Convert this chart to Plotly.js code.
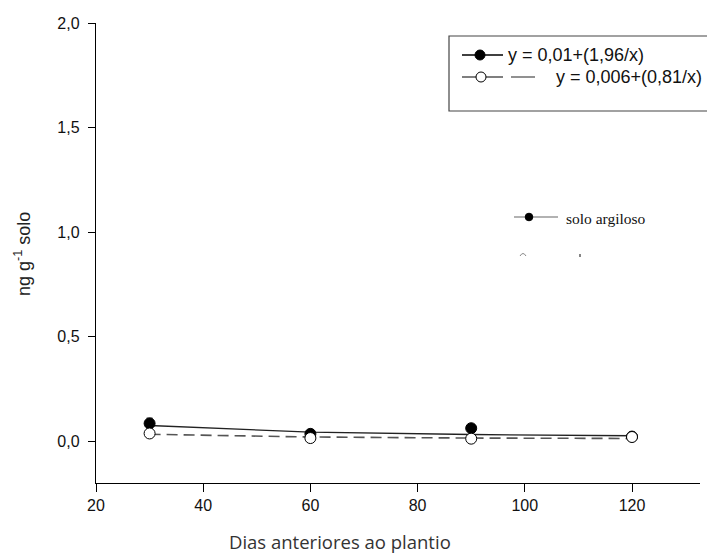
<!DOCTYPE html>
<html>
<head>
<meta charset="utf-8">
<script src="https://cdn.plot.ly/plotly-3.0.1.min.js"></script>
<style>
  html, body { margin: 0; padding: 0; background: #fff; }
  #chart { width: 707px; height: 553px; }
</style>
</head>
<body>
<div id="chart"></div>
<script>
// Days before planting
const dias = [30, 60, 90, 120];

// Measured residues (ng g-1 solo)
const argiloso = [0.085, 0.035, 0.062, 0.022];
const argilosoErr = [0.025, 0.010, 0.015, 0.005];
const arenoso = [0.037, 0.015, 0.012, 0.020];
const arenosoErr = [0.010, 0.006, 0.006, 0.005];

// Fitted curves evaluated at the sampling days
const ajusteArgiloso = [0.075, 0.043, 0.032, 0.026];
const ajusteArenoso = [0.033, 0.020, 0.015, 0.013];

// Legend text
const eqArgiloso = 'y = 0,01+(1,96/x)';
const eqArenoso = 'y = 0,006+(0,81/x)';

const xTicks = [20, 40, 60, 80, 100, 120];
const yTicks = [0, 0.5, 1, 1.5, 2];

// Plot area in pixels (used to place the legend box)
const W = 707, H = 553;
const M = { l: 96, r: 7, t: 23, b: 70 };
const PW = W - M.l - M.r, PH = H - M.t - M.b;
const px = x => (x - M.l) / PW;
const py = y => (H - M.b - y) / PH;

const traces = [
  {
    x: dias, y: ajusteArgiloso, mode: 'lines', type: 'scatter',
    line: { color: '#222', width: 1.3 }, hoverinfo: 'skip', showlegend: false
  },
  {
    x: dias, y: ajusteArenoso, mode: 'lines', type: 'scatter',
    line: { color: '#555', width: 1.6, dash: '11px,6px' }, hoverinfo: 'skip', showlegend: false
  },
  {
    x: dias, y: argiloso, mode: 'markers', type: 'scatter', name: 'solo argiloso',
    error_y: { type: 'data', array: argilosoErr, color: '#000', thickness: 1, width: 3 },
    marker: { symbol: 'circle', size: 11, color: '#000', line: { color: '#000', width: 1 } },
    showlegend: false
  },
  {
    x: dias, y: arenoso, mode: 'markers', type: 'scatter', name: 'solo arenoso',
    error_y: { type: 'data', array: arenosoErr, color: '#000', thickness: 1, width: 3 },
    marker: { symbol: 'circle', size: 11, color: '#fff', line: { color: '#000', width: 1 } },
    showlegend: false
  }
];

function circle(cx, cy, r, fill) {
  return {
    type: 'circle', xref: 'paper', yref: 'paper',
    x0: px(cx - r), x1: px(cx + r), y0: py(cy + r), y1: py(cy - r),
    fillcolor: fill, line: { color: '#000', width: 1 }, layer: 'above'
  };
}
function seg(x0, y0, x1, y1, color, width) {
  return {
    type: 'line', xref: 'paper', yref: 'paper',
    x0: px(x0), x1: px(x1), y0: py(y0), y1: py(y1),
    line: { color: color, width: width }, layer: 'above'
  };
}

const shapes = [
  // equation box (runs off the right edge)
  {
    type: 'rect', xref: 'paper', yref: 'paper',
    x0: px(449), x1: px(715), y0: py(111), y1: py(36),
    fillcolor: '#fff', line: { color: '#444', width: 1.2 }, layer: 'above'
  },
  seg(462, 55, 503, 55, '#000', 1.3),
  circle(480, 55, 5, '#000'),
  seg(462, 77, 503, 77, '#555', 1.3),
  seg(511, 77, 535, 77, '#555', 1.3),
  circle(481, 77, 5, '#fff'),
  // series key
  seg(514, 217, 558, 217, '#999', 1.5),
  circle(529, 217, 3.8, '#000'),
  {
    type: 'path', xref: 'paper', yref: 'paper',
    path: 'M ' + px(520) + ',' + py(256) + ' Q ' + px(523) + ',' + py(251) + ' ' + px(526) + ',' + py(256),
    line: { color: '#888', width: 1 }, layer: 'above'
  },
  seg(580, 254, 580, 257, '#444', 1.3)
];

const annotations = [
  {
    text: eqArgiloso, xref: 'paper', yref: 'paper', x: px(506), y: py(55),
    xanchor: 'left', yanchor: 'middle', showarrow: false,
    font: { family: 'Liberation Sans, Arial, sans-serif', size: 18, color: '#111' }
  },
  {
    text: eqArenoso, xref: 'paper', yref: 'paper', x: px(554), y: py(77),
    xanchor: 'left', yanchor: 'middle', showarrow: false,
    font: { family: 'Liberation Sans, Arial, sans-serif', size: 18, color: '#111' }
  },
  {
    text: 'solo argiloso', xref: 'paper', yref: 'paper', x: px(564), y: py(218),
    xanchor: 'left', yanchor: 'middle', showarrow: false,
    font: { family: 'Liberation Serif, Times New Roman, serif', size: 15.5, color: '#111' }
  },
  {
    text: 'Dias anteriores ao plantio', xref: 'paper', yref: 'paper', x: px(340), y: py(541),
    xanchor: 'center', yanchor: 'middle', showarrow: false,
    font: { family: 'Open Sans, sans-serif', size: 18.5, color: '#333' }
  },
  {
    text: 'ng g<sup>-1</sup> solo', xref: 'paper', yref: 'paper', x: px(22), y: py(254),
    xanchor: 'center', yanchor: 'middle', showarrow: false, textangle: -90,
    font: { family: 'Liberation Sans, Arial, sans-serif', size: 18, color: '#222' }
  }
];

const layout = {
  width: W, height: H,
  margin: M,
  paper_bgcolor: '#fff', plot_bgcolor: '#fff',
  separators: ',.',
  showlegend: false,
  font: { family: 'Liberation Sans, Arial, sans-serif', size: 13, color: '#222' },
  xaxis: {
    range: [20, 20 + PW / 5.36],
    tickvals: xTicks, ticktext: xTicks.map(String),
    ticks: 'outside', ticklen: 8, tickwidth: 1, tickcolor: '#000',
    showline: true, linecolor: '#000', linewidth: 1.2,
    showgrid: false, zeroline: false,
    tickfont: { family: 'Liberation Sans, Arial, sans-serif', size: 16, color: '#111' }
  },
  yaxis: {
    range: [-0.2, 2.0],
    tickvals: yTicks, tickformat: '.1f',
    ticks: 'outside', ticklen: 7, tickwidth: 1, tickcolor: '#000',
    ticklabelstandoff: 5,
    showline: true, linecolor: '#000', linewidth: 1.2,
    showgrid: false, zeroline: false,
    tickfont: { family: 'Liberation Sans, Arial, sans-serif', size: 16, color: '#111' }
  },
  shapes: shapes,
  annotations: annotations
};

Plotly.newPlot('chart', traces, layout, { displayModeBar: false, staticPlot: true });
</script>
</body>
</html>
